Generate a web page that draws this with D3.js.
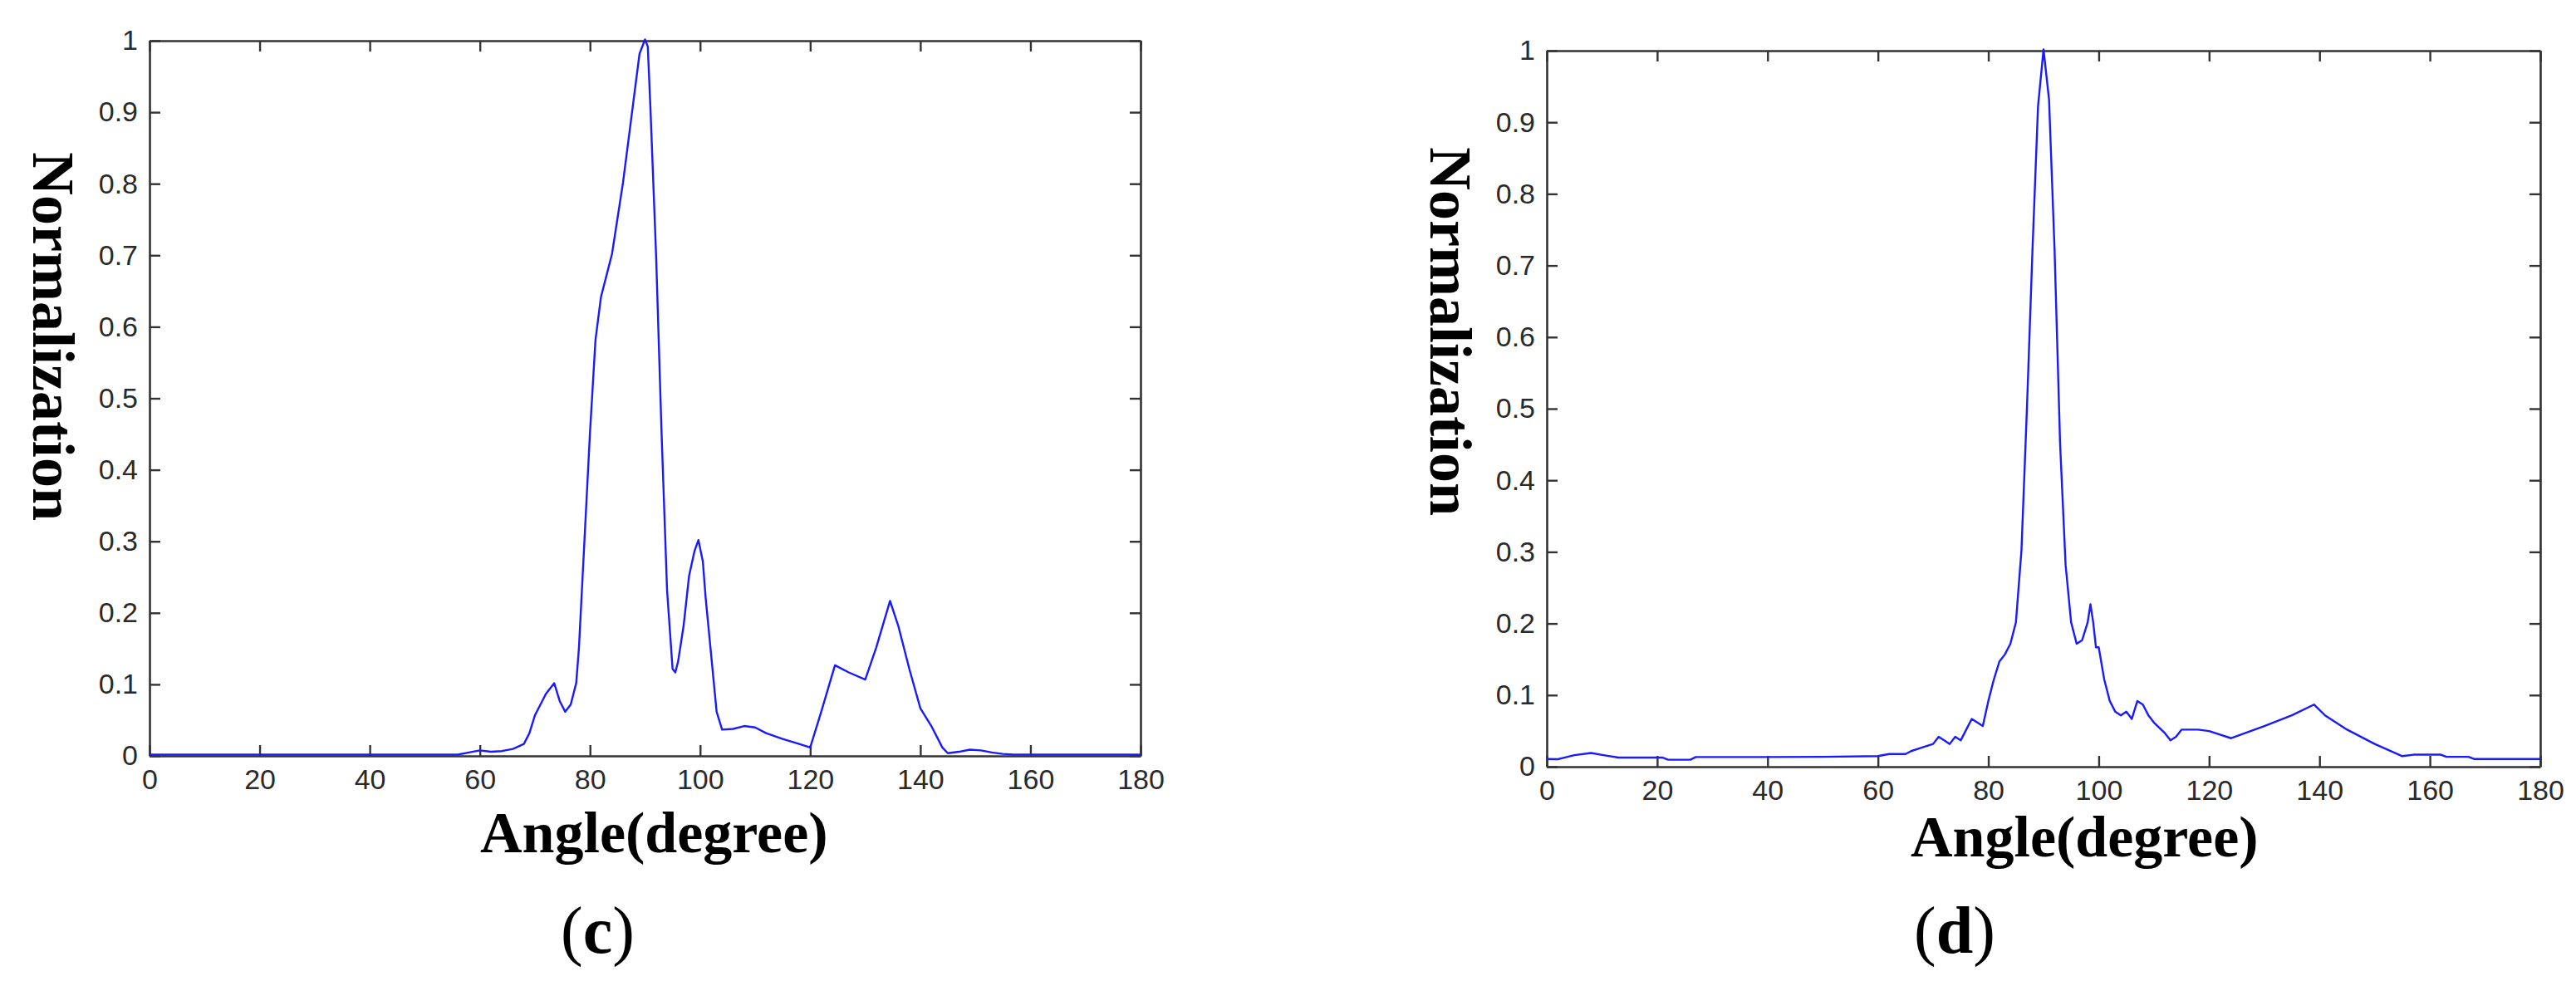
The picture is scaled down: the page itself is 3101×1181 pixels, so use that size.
<!DOCTYPE html>
<html>
<head>
<meta charset="utf-8">
<script src="https://cdn.jsdelivr.net/npm/d3@7"></script>
<style>
  html, body { margin: 0; padding: 0; background: #ffffff; }
  svg { display: block; }
</style>
</head>
<body>
<svg id="chart" width="3101" height="1181"></svg>
<script>
// ---- data ----
const xTicks = [0, 20, 40, 60, 80, 100, 120, 140, 160, 180];
const xTickLabels = ["0", "20", "40", "60", "80", "100", "120", "140", "160", "180"];
const yTicks = [0, 0.1, 0.2, 0.3, 0.4, 0.5, 0.6, 0.7, 0.8, 0.9, 1];
const yTickLabels = ["0", "0.1", "0.2", "0.3", "0.4", "0.5", "0.6", "0.7", "0.8", "0.9", "1"];

const cAngles = [0, 56, 58, 60, 62, 64, 66, 68, 69, 70, 71, 72, 73, 73.5, 74.5, 75.5, 76.5, 77.5, 78, 79, 80, 81, 82, 83, 84, 85, 86, 87, 88, 89, 90, 90.5, 91, 92, 93, 94, 95, 95.5, 96, 97, 98, 99, 99.7, 100.5, 101, 102, 103, 104, 106, 108, 110, 112, 115, 118, 120, 122, 124.5, 127, 130, 132, 134.5, 136, 138, 140, 142, 144, 145, 147, 149, 151, 153, 155, 157, 180];
const cValues = [0, 0, 0.003, 0.006, 0.004, 0.005, 0.008, 0.015, 0.03, 0.055, 0.07, 0.085, 0.095, 0.1, 0.075, 0.06, 0.07, 0.1, 0.15, 0.3, 0.45, 0.58, 0.64, 0.67, 0.7, 0.75, 0.8, 0.86, 0.92, 0.98, 1.0, 0.99, 0.9, 0.7, 0.45, 0.23, 0.12, 0.115, 0.13, 0.18, 0.25, 0.285, 0.3, 0.27, 0.22, 0.14, 0.06, 0.035, 0.036, 0.04, 0.038, 0.03, 0.022, 0.015, 0.01, 0.06, 0.125, 0.115, 0.105, 0.15, 0.215, 0.18, 0.12, 0.065, 0.04, 0.01, 0.002, 0.004, 0.007, 0.006, 0.003, 0.001, 0, 0];

const dAngles = [0, 2, 3, 5, 8, 10.5, 13, 21, 22, 26, 27, 40, 50, 60, 62, 65, 66, 68, 70, 71, 72, 73, 74, 75, 76, 77, 78, 79, 80, 81, 82, 83, 84, 85, 86, 87, 88, 89, 90, 91, 92, 93, 94, 95, 96, 97, 98, 98.5, 99, 99.5, 100, 101, 102, 103, 104, 105, 106, 107, 108, 109, 110, 112, 113, 114, 115, 118, 120, 124, 130, 135, 139, 141, 145, 150, 155, 157, 162, 163, 167, 168, 180];
const dValues = [0.009, 0.0087, 0.0106, 0.0143, 0.0174, 0.014, 0.011, 0.011, 0.008, 0.008, 0.0117, 0.0117, 0.012, 0.013, 0.016, 0.016, 0.02, 0.025, 0.03, 0.04, 0.035, 0.03, 0.04, 0.035, 0.05, 0.065, 0.06, 0.055, 0.09, 0.12, 0.145, 0.155, 0.17, 0.2, 0.3, 0.5, 0.72, 0.92, 1.0, 0.93, 0.72, 0.45, 0.28, 0.2, 0.17, 0.175, 0.2, 0.225, 0.2, 0.165, 0.165, 0.12, 0.09, 0.075, 0.07, 0.075, 0.065, 0.09, 0.085, 0.07, 0.06, 0.045, 0.035, 0.04, 0.05, 0.05, 0.048, 0.038, 0.055, 0.07, 0.085, 0.07, 0.05, 0.03, 0.013, 0.015, 0.015, 0.012, 0.012, 0.009, 0.009];

const xLabel = "Angle(degree)";
const yLabel = "Normalization";

// ---- layout ----
const panels = [
  { angles: cAngles, values: cValues, tag: "c",
    x0: 180, x1: 1373, yTop: 49, yBot: 910,
    yLabX: 40, yLabY: 183, xLabX: 578, xLabY: 1026, tagX: 675, tagY: 1147 },
  { angles: dAngles, values: dValues, tag: "d",
    x0: 1862, x1: 3058, yTop: 61, yBot: 923,
    yLabX: 1722, yLabY: 177, xLabX: 2300, xLabY: 1031, tagX: 2304, tagY: 1147 }
];

const svg = d3.select("#chart");
const axisColor = "#333333";
const tickFont = "'Liberation Sans', Arial, Helvetica, sans-serif";
const serif = "'Liberation Serif', 'Times New Roman', serif";

panels.forEach(p => {
  const x = d3.scaleLinear().domain([0, 180]).range([p.x0, p.x1]);
  const y = d3.scaleLinear().domain([0, 1]).range([p.yBot, p.yTop]);
  const g = svg.append("g");

  const styleAxis = sel => {
    sel.select(".domain").attr("stroke", axisColor).attr("stroke-width", 2.6);
    sel.selectAll(".tick line").attr("stroke", axisColor).attr("stroke-width", 2.4);
    sel.selectAll(".tick text").attr("fill", "#2a2a2a")
      .style("font-family", tickFont).style("font-size", "34px");
  };

  g.append("g").attr("transform", `translate(0,${p.yBot})`)
    .call(d3.axisBottom(x).tickValues(xTicks).tickFormat((d, i) => xTickLabels[i])
      .tickSizeInner(-13).tickSizeOuter(0).tickPadding(16))
    .call(styleAxis);
  g.append("g").attr("transform", `translate(0,${p.yTop})`)
    .call(d3.axisTop(x).tickValues(xTicks).tickFormat(() => "")
      .tickSizeInner(-13).tickSizeOuter(0))
    .call(styleAxis);
  g.append("g").attr("transform", `translate(${p.x0},0)`)
    .call(d3.axisLeft(y).tickValues(yTicks).tickFormat((d, i) => yTickLabels[i])
      .tickSizeInner(-13).tickSizeOuter(0).tickPadding(14))
    .call(styleAxis);
  g.append("g").attr("transform", `translate(${p.x1},0)`)
    .call(d3.axisRight(y).tickValues(yTicks).tickFormat(() => "")
      .tickSizeInner(-13).tickSizeOuter(0))
    .call(styleAxis);

  const data = p.angles.map((a, i) => [a, p.values[i]]);
  const line = d3.line().x(d => x(d[0])).y(d => y(d[1]) - 1.5);
  g.append("path").datum(data)
    .attr("d", line)
    .attr("fill", "none")
    .attr("stroke", "#1a1aff")
    .attr("stroke-width", 2.4)
    .attr("stroke-linejoin", "round");

  g.append("text")
    .attr("transform", `translate(${p.yLabX},${p.yLabY}) rotate(90)`)
    .attr("text-anchor", "start")
    .style("font-family", serif).style("font-weight", "bold").style("font-size", "72px")
    .attr("fill", "#000")
    .text(yLabel);

  g.append("text")
    .attr("x", p.xLabX).attr("y", p.xLabY)
    .style("font-family", serif).style("font-weight", "bold").style("font-size", "70px")
    .attr("fill", "#000")
    .text(xLabel);

  const t = g.append("text")
    .attr("x", p.tagX).attr("y", p.tagY)
    .style("font-family", serif).style("font-size", "80px")
    .attr("fill", "#000");
  t.append("tspan").text("(");
  t.append("tspan").style("font-weight", "bold").text(p.tag);
  t.append("tspan").text(")");
});
</script>
</body>
</html>
